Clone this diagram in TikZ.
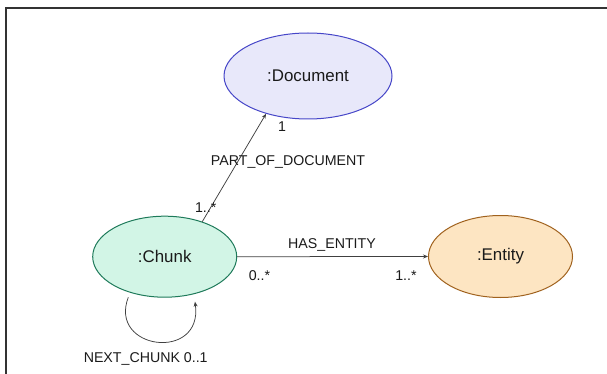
\documentclass[tikz,border=0pt]{standalone}
\usepackage{fontspec}
\setmainfont{Liberation Sans}
\usetikzlibrary{shapes.geometric,arrows.meta}
\definecolor{docfill}{HTML}{E8E8FA}
\definecolor{docdraw}{HTML}{4646C8}
\definecolor{chfill}{HTML}{D2F5E6}
\definecolor{chdraw}{HTML}{1E7A5A}
\definecolor{enfill}{HTML}{FDE5C2}
\definecolor{endraw}{HTML}{A0621E}
\definecolor{txt}{HTML}{1A1A1A}
\definecolor{framec}{HTML}{333333}
\tikzset{
  ent/.style={ellipse, draw, line width=1pt, inner sep=0pt, text=txt, font=\fontsize{16.9}{19}\selectfont},
  lbl/.style={text=txt, font=\fontsize{14.2}{16}\selectfont, inner sep=0pt},
  conn/.style={draw=black!75, line width=0.75pt, -{Stealth[length=5pt,width=4pt]}}
}
\begin{document}
\begin{tikzpicture}[x=1pt,y=-1pt]
\useasboundingbox (0,0) rectangle (607,374);
\draw[framec, line width=1.2pt] (607,8) -- (6,8) -- (6,374);
\node[ent, fill=docfill, draw=docdraw, minimum width=168pt, minimum height=86pt] (doc) at (308,76) {:Document};
\node[ent, fill=chfill, draw=chdraw, minimum width=144pt, minimum height=81pt] (chunk) at (164.7,256.7) {:Chunk};
\node[ent, fill=enfill, draw=endraw, minimum width=144pt, minimum height=82pt] (entity) at (500.5,256.5) {:Entity};
\draw[conn] (chunk.43) -- (doc.222);
\draw[conn] (chunk.east) -- (entity.west);
\coordinate (loopA) at (128.3,297.3);
\coordinate (loopB) at (195,301.7);
\draw[conn] (loopA) .. controls (108,350) and (203,362) .. (loopB);
\node[lbl] (l1) at (282,127) {1};
\node[lbl] (lpod) at (288,162) {PART\_OF\_DOCUMENT};
\node[lbl] (l2) at (205.7,207.7) {1..*};
\node[lbl] (lhe) at (332,244.5) {HAS\_ENTITY};
\node[lbl] (l3) at (259.5,275.5) {0..*};
\node[lbl] (l4) at (406,275.5) {1..*};
\node[lbl] (lnc) at (145.7,358.5) {NEXT\_CHUNK 0..1};
\end{tikzpicture}
\end{document}
